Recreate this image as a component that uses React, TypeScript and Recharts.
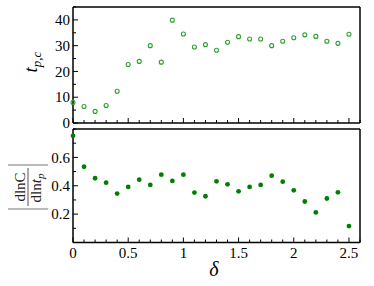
import React from 'react';
import { ScatterChart, Scatter, XAxis, YAxis } from 'recharts';

const delta = [0, 0.1, 0.2, 0.3, 0.4, 0.5, 0.6, 0.7, 0.8, 0.9, 1.0, 1.1, 1.2, 1.3, 1.4, 1.5, 1.6, 1.7, 1.8, 1.9, 2.0, 2.1, 2.2, 2.3, 2.4, 2.5];
const tpc = [8.0, 6.4, 4.5, 6.8, 12.3, 22.7, 23.9, 30.0, 23.6, 39.9, 34.5, 29.5, 30.4, 28.2, 31.3, 33.5, 32.6, 32.6, 30.0, 31.7, 33.1, 34.2, 33.6, 31.7, 30.9, 34.4];
const dlnC = [0.752, 0.534, 0.453, 0.422, 0.345, 0.392, 0.443, 0.406, 0.478, 0.434, 0.478, 0.352, 0.326, 0.431, 0.41, 0.361, 0.392, 0.406, 0.471, 0.429, 0.368, 0.289, 0.212, 0.31, 0.354, 0.116];

const xTicks = [0, 0.1, 0.2, 0.3, 0.4, 0.5, 0.6, 0.7, 0.8, 0.9, 1, 1.1, 1.2, 1.3, 1.4, 1.5, 1.6, 1.7, 1.8, 1.9, 2, 2.1, 2.2, 2.3, 2.4, 2.5, 2.6];
const xLabels = [0, 0.5, 1, 1.5, 2, 2.5];
const topYTicks = [0, 5, 10, 15, 20, 25, 30, 35, 40, 45];
const topYLabels = [0, 10, 20, 30, 40];
const botYTicks = [0, 0.1, 0.2, 0.3, 0.4, 0.5, 0.6, 0.7, 0.8];
const botYLabels = [0.2, 0.4, 0.6];

const topData = delta.map((d, i) => ({ x: d, y: tpc[i] }));
const botData = delta.map((d, i) => ({ x: d, y: dlnC[i] }));

const FONT = '"Liberation Serif", "DejaVu Serif", serif';
const near = (v: number, list: number[]) => list.some((l) => Math.abs(l - v) < 1e-6);

const mkXTick = (labels: number[], dir: number, showLabels: boolean) => (props: any) => {
  const { x, y, payload } = props;
  const v = payload.value;
  const major = near(v, labels);
  const len = major ? 5 : 3;
  return (
    <g>
      <line x1={x} x2={x} y1={y} y2={y + dir * len} stroke="#000" strokeWidth={1} />
      {showLabels && major && (
        <text x={x} y={y + 15} textAnchor="middle" fontFamily={FONT} fontSize={15} fill="#000">
          {String(v)}
        </text>
      )}
    </g>
  );
};

const mkYTick = (major: number[], labels: number[], dir: number, showLabels: boolean) => (props: any) => {
  const { x, y, payload } = props;
  const v = payload.value;
  const isMajor = near(v, major);
  const len = isMajor ? 5 : 3;
  const lab = near(v, labels);
  return (
    <g>
      <line x1={x} x2={x + dir * len} y1={y} y2={y} stroke="#000" strokeWidth={1} />
      {showLabels && lab && (
        <text x={x - 3} y={y} dy="0.35em" textAnchor="end" fontFamily={FONT} fontSize={15} fill="#000">
          {String(v)}
        </text>
      )}
    </g>
  );
};

const axisLine = { stroke: '#000', strokeWidth: 1.5 };

export default function App() {
  return (
    <div style={{ position: 'absolute', left: 0, top: 0, width: 374, height: 286, background: '#fff' }}>
      <div style={{ position: 'absolute', left: 0, top: 0 }}>
        <ScatterChart width={374} height={130} margin={{ top: 6, right: 13, bottom: 6, left: 72 }}>
          <XAxis xAxisId="b" dataKey="x" type="number" domain={[0, 2.6]} ticks={xTicks} interval={0} height={1}
            tickSize={0} tickMargin={0} tickLine={false} axisLine={axisLine} tick={mkXTick(xLabels, -1, false)} />
          <XAxis xAxisId="t" orientation="top" dataKey="x" type="number" domain={[0, 2.6]} ticks={xTicks} interval={0} height={1}
            tickSize={0} tickMargin={0} tickLine={false} axisLine={axisLine} tick={mkXTick(xLabels, 1, false)} />
          <YAxis yAxisId="l" dataKey="y" type="number" domain={[0, 45]} ticks={topYTicks} interval={0} width={1}
            tickSize={0} tickMargin={0} tickLine={false} axisLine={axisLine} tick={mkYTick(topYLabels, topYLabels, 1, true)} />
          <YAxis yAxisId="r" orientation="right" dataKey="y" type="number" domain={[0, 45]} ticks={topYTicks} interval={0} width={1}
            tickSize={0} tickMargin={0} tickLine={false} axisLine={axisLine} tick={mkYTick(topYLabels, topYLabels, -1, false)} />
          <Scatter xAxisId="b" yAxisId="l" data={topData} isAnimationActive={false}
            shape={(p: any) => <circle cx={p.cx} cy={p.cy} r={2} fill="none" stroke="#2ca02c" strokeWidth={1.1} />} />
        </ScatterChart>
      </div>
      <div style={{ position: 'absolute', left: 0, top: 125 }}>
        <ScatterChart width={374} height={161} margin={{ top: 3, right: 13, bottom: 42.5, left: 72 }}>
          <XAxis xAxisId="b" dataKey="x" type="number" domain={[0, 2.6]} ticks={xTicks} interval={0} height={1}
            tickSize={0} tickMargin={0} tickLine={false} axisLine={axisLine} tick={mkXTick(xLabels, -1, true)} />
          <XAxis xAxisId="t" orientation="top" dataKey="x" type="number" domain={[0, 2.6]} ticks={xTicks} interval={0} height={1}
            tickSize={0} tickMargin={0} tickLine={false} axisLine={axisLine} tick={mkXTick(xLabels, 1, false)} />
          <YAxis yAxisId="l" dataKey="y" type="number" domain={[0, 0.8]} ticks={botYTicks} interval={0} width={1}
            tickSize={0} tickMargin={0} tickLine={false} axisLine={axisLine} tick={mkYTick(botYLabels, botYLabels, 1, true)} />
          <YAxis yAxisId="r" orientation="right" dataKey="y" type="number" domain={[0, 0.8]} ticks={botYTicks} interval={0} width={1}
            tickSize={0} tickMargin={0} tickLine={false} axisLine={axisLine} tick={mkYTick(botYLabels, botYLabels, -1, false)} />
          <Scatter xAxisId="b" yAxisId="l" data={botData} isAnimationActive={false}
            shape={(p: any) => <circle cx={p.cx} cy={p.cy} r={2.4} fill="#008000" />} />
        </ScatterChart>
      </div>
      <svg width={374} height={286} style={{ position: 'absolute', left: 0, top: 0, pointerEvents: 'none' }}>
        <text transform="rotate(-90, 37, 62)" x={37} y={62} textAnchor="middle" fontFamily={FONT} fill="#000">
          <tspan fontSize={19} fontStyle="italic">t</tspan>
          <tspan fontSize={13} fontStyle="italic" dy={4}>p,c</tspan>
        </text>
        <g transform="rotate(-90, 28, 187)" fontFamily={FONT}>
          <text x={28} y={184} textAnchor="middle" fontSize={15} fill="#222">dlnC</text>
          <text x={27} y={200} textAnchor="middle" fontSize={15} fill="#222">
            dln<tspan fontStyle="italic">t</tspan>
            <tspan fontSize={11} fontStyle="italic" dy={3}>p</tspan>
          </text>
          <line x1={9} x2={47} y1={187} y2={187} stroke="#555" strokeWidth={1} />
          <line x1={6} x2={6} y1={167} y2={207} stroke="#777" strokeWidth={1.2} />
          <line x1={50} x2={50} y1={167} y2={207} stroke="#777" strokeWidth={1.2} />
        </g>
        <text x={214} y={276} textAnchor="middle" fontFamily={FONT} fontSize={20} fontStyle="italic" fill="#000">δ</text>
      </svg>
    </div>
  );
}
